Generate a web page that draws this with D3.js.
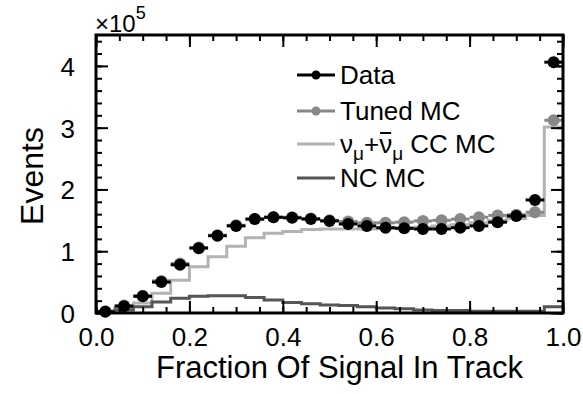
<!DOCTYPE html>
<html>
<head>
<meta charset="utf-8">
<script src="https://cdn.jsdelivr.net/npm/d3@7"></script>
<style>
  body { margin: 0; background: #fff; }
  text { font-family: "Liberation Sans", Arial, sans-serif; fill: #000; }
</style>
</head>
<body>
<div class="canva"></div>
<script>
// bin centres of the fraction histogram (bin width 0.04)
const binCenters = [0.02, 0.06, 0.10, 0.14, 0.18, 0.22, 0.26, 0.30, 0.34, 0.38,
                    0.42, 0.46, 0.50, 0.54, 0.58, 0.62, 0.66, 0.70, 0.74, 0.78,
                    0.82, 0.86, 0.90, 0.94, 0.98];
const binWidth = 0.04;

// events per bin
const dataEvents  = [2000, 11000, 27000, 50000, 78000, 105000, 125000, 141000, 152000, 155000,
                     154000, 152000, 149000, 144000, 141000, 138000, 137000, 136000, 136000, 138000,
                     141000, 147000, 157000, 183000, 406000];
const tunedMC     = [3000, 12000, 28000, 52000, 80000, 106000, 126000, 142000, 152000, 155000,
                     155000, 153000, 150000, 148000, 146000, 146000, 147000, 149000, 150000, 152000,
                     155000, 158000, 159000, 163000, 312000];
const ccMC        = [1000, 8000, 16000, 32000, 53000, 75000, 91000, 108000, 122000, 129000,
                     132000, 135000, 136000, 136000, 136000, 137000, 138000, 139000, 141000, 143000,
                     146000, 150000, 153000, 158000, 301000];
const ncMC        = [2000, 5000, 10000, 18000, 24000, 27000, 28000, 28000, 25000, 21000,
                     17000, 15000, 13000, 12000, 10000, 8000, 7000, 5000, 4000, 4000,
                     3000, 3000, 3000, 3000, 10000];

const xTicks = [0, 0.2, 0.4, 0.6, 0.8, 1.0];
const yTicks = [0, 100000, 200000, 300000, 400000];

const W = 583, H = 394;
const pL = 96, pR = 563, pT = 35, pB = 313;

const svg = d3.select(".canva").append("svg")
    .attr("width", W)
    .attr("height", H);

svg.append("rect").attr("width", W).attr("height", H).attr("fill", "#fff");

const x = d3.scaleLinear().domain([0, 1]).range([pL, pR]);
const y = d3.scaleLinear().domain([0, 450000]).range([pB, pT]);

const plot = svg.append("g");

// histogram outline as steps
function steps(vals) {
    const pts = [];
    vals.forEach((v, i) => {
        pts.push([binCenters[i] - binWidth / 2, v]);
        pts.push([binCenters[i] + binWidth / 2, v]);
    });
    return d3.line().x(d => x(d[0])).y(d => y(d[1]))(pts);
}

plot.append("path")
    .attr("d", steps(ccMC))
    .attr("fill", "none")
    .attr("stroke", "#b3b3b3")
    .attr("stroke-width", 3);

plot.append("path")
    .attr("d", steps(ncMC))
    .attr("fill", "none")
    .attr("stroke", "#555")
    .attr("stroke-width", 3);

function points(vals, color, r) {
    const g = plot.append("g");
    g.selectAll("line")
        .data(vals)
        .enter().append("line")
        .attr("x1", (d, i) => x(binCenters[i] - binWidth / 2))
        .attr("x2", (d, i) => x(binCenters[i] + binWidth / 2))
        .attr("y1", d => y(d))
        .attr("y2", d => y(d))
        .attr("stroke", color)
        .attr("stroke-width", 3);
    g.selectAll("circle")
        .data(vals)
        .enter().append("circle")
        .attr("cx", (d, i) => x(binCenters[i]))
        .attr("cy", d => y(d))
        .attr("r", r)
        .attr("fill", color);
}

points(tunedMC, "#888", 6);
points(dataEvents, "#000", 6);

// axes with inside ticks, on all four sides
const fmtY = d => d3.format("d")(d / 100000);

function addAxis(axis, tx, ty) {
    const g = svg.append("g").attr("transform", `translate(${tx},${ty})`).call(axis);
    g.select(".domain").remove();
    g.selectAll(".tick line").attr("stroke", "#000").attr("stroke-width", 2);
    g.selectAll("text").style("font-size", "26px").attr("font-family", "Liberation Sans, Arial, sans-serif");
    return g;
}

const xMinor = d3.range(0, 1.0001, 0.05);
const yMinor = d3.range(0, 450001, 20000);

addAxis(d3.axisBottom(x).tickValues(xMinor).tickSize(-6).tickFormat(""), 0, pB);
addAxis(d3.axisTop(x).tickValues(xMinor).tickSize(-6).tickFormat(""), 0, pT);
addAxis(d3.axisLeft(y).tickValues(yMinor).tickSize(-6).tickFormat(""), pL, 0);
addAxis(d3.axisRight(y).tickValues(yMinor).tickSize(-6).tickFormat(""), pR, 0);

const xb = addAxis(d3.axisBottom(x).tickValues(xTicks).tickSize(-12)
    .tickFormat(d3.format(".1f")), 0, pB);
xb.selectAll("text").attr("dy", "0").attr("y", 33);
addAxis(d3.axisTop(x).tickValues(xTicks).tickSize(-12).tickFormat(""), 0, pT);
const yl = addAxis(d3.axisLeft(y).tickValues(yTicks).tickSize(-12).tickFormat(fmtY), pL, 0);
yl.selectAll("text").attr("x", -21).attr("dy", "0.36em");
addAxis(d3.axisRight(y).tickValues(yTicks).tickSize(-12).tickFormat(""), pR, 0);

// frame
svg.append("rect")
    .attr("x", pL).attr("y", pT)
    .attr("width", pR - pL).attr("height", pB - pT)
    .attr("fill", "none")
    .attr("stroke", "#000")
    .attr("stroke-width", 3);

// multiplier
const mult = svg.append("text").attr("x", pL - 1).attr("y", 32).style("font-size", "24px");
mult.append("tspan").text("×10");
mult.append("tspan").attr("dy", -13).style("font-size", "18px").text("5");

// axis titles
svg.append("text")
    .attr("x", (pL + pR) / 2 + 10)
    .attr("y", 378)
    .attr("text-anchor", "middle")
    .style("font-size", "31px")
    .text("Fraction Of Signal In Track");

svg.append("text")
    .attr("transform", "translate(43,176) rotate(-90)")
    .attr("text-anchor", "middle")
    .style("font-size", "32px")
    .text("Events");

// legend
const legendRows = [
    { label: "Data", color: "#000", dot: true, y: 75 },
    { label: "Tuned MC", color: "#888", dot: true, y: 111 },
    { label: "cc", color: "#b3b3b3", dot: false, y: 144 },
    { label: "NC MC", color: "#555", dot: false, y: 178 }
];

const leg = svg.append("g");
legendRows.forEach(r => {
    leg.append("line")
        .attr("x1", 297).attr("x2", 335)
        .attr("y1", r.y).attr("y2", r.y)
        .attr("stroke", r.color).attr("stroke-width", 3);
    if (r.dot) {
        leg.append("circle").attr("cx", 316).attr("cy", r.y).attr("r", 4.5).attr("fill", r.color);
    }
    const t = leg.append("text").attr("x", 340).attr("y", r.y + 9).style("font-size", "26px");
    if (r.label === "cc") {
        t.append("tspan").text("ν");
        t.append("tspan").attr("dy", 7).style("font-size", "19px").text("μ");
        t.append("tspan").attr("dy", -7).text("+");
        const bar = t.append("tspan").text("ν");
        t.append("tspan").attr("dy", 7).style("font-size", "19px").text("μ");
        t.append("tspan").attr("dy", -7).text(" CC MC");
        // bar over the anti-neutrino
        const ext = t.node().getExtentOfChar(3);
        leg.append("line")
            .attr("x1", ext.x + 1).attr("x2", ext.x + ext.width - 1)
            .attr("y1", r.y - 11).attr("y2", r.y - 11)
            .attr("stroke", "#000").attr("stroke-width", 2);
    } else {
        t.text(r.label);
    }
});
</script>
</body>
</html>
